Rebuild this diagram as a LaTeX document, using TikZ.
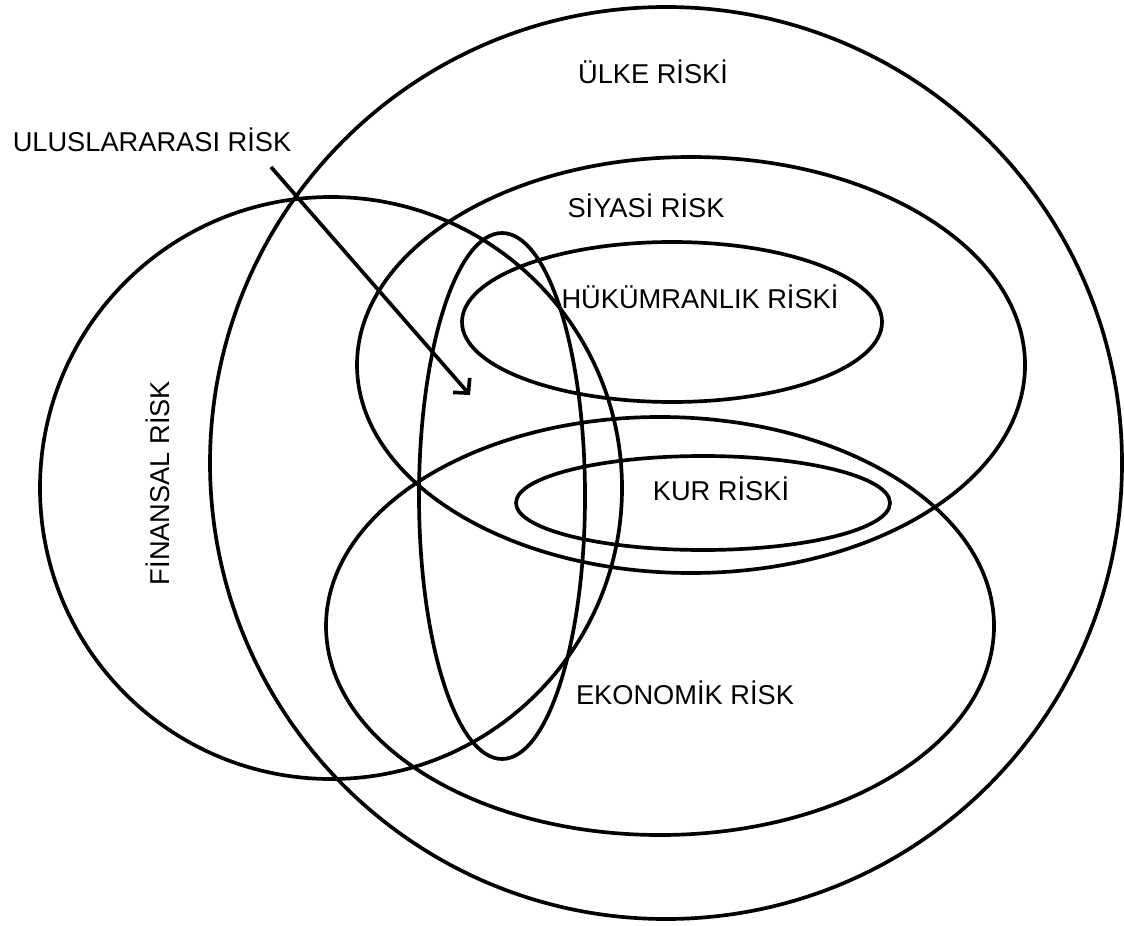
\documentclass[tikz,border=0pt]{standalone}
\usepackage{fontspec}
\setmainfont{Liberation Sans}
\usetikzlibrary{arrows.meta}

\begin{document}
\begin{tikzpicture}[
  x=0.02cm, y=-0.02cm,
  ring/.style={draw=black,line width=2.1pt},
  lbl/.style={inner sep=0pt,font=\fontsize{15.5}{18}\selectfont},
  pointer/.style={draw=black,line width=2.1pt,-{Straight Barb[length=0.21cm,width=0.44cm]}}
]
\useasboundingbox (0,0) rectangle (1124,925);
% risk areas
\draw[ring] (666,463) circle [radius=456];
\draw[ring] (331,488) ellipse [x radius=291, y radius=291];
\draw[ring] (691,365) ellipse [x radius=334, y radius=208];
\draw[ring] (672,322) ellipse [x radius=210, y radius=80];
\draw[ring] (660,626) ellipse [x radius=334, y radius=209];
\draw[ring] (703,503) ellipse [x radius=187, y radius=47];
\draw[ring] (502,496) ellipse [x radius=83, y radius=263];
% labels
\node[lbl] (ulke) at (653,72) {ÜLKE RİSKİ};
\node[lbl] (ulus) at (152,140) {ULUSLARARASI RİSK};
\node[lbl] (siyasi) at (646,206) {SİYASİ RİSK};
\node[lbl] (hukum) at (700,297) {HÜKÜMRANLIK RİSKİ};
\node[lbl] (kur) at (721,489) {KUR RİSKİ};
\node[lbl] (ekonomik) at (685,693) {EKONOMİK RİSK};
\node[lbl,rotate=90] (finansal) at (158,483) {FİNANSAL RİSK};
% pointer
\coordinate (arrtail) at (271,167);
\coordinate (arrtip) at (470,395);
\draw[pointer] (arrtail) -- (arrtip);
\end{tikzpicture}
\end{document}
